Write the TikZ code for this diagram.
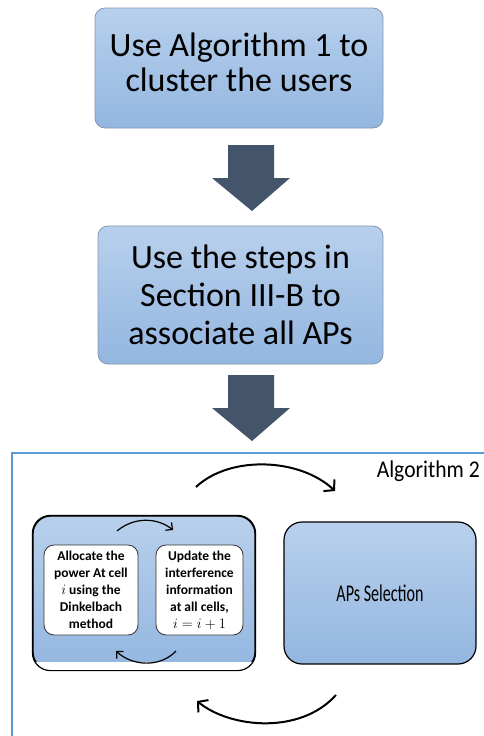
\documentclass[tikz,border=0pt]{standalone}
\usepackage{fontspec}
\setmainfont{Carlito}
\usetikzlibrary{arrows.meta}
\definecolor{boxtop}{HTML}{B8D0EC}
\definecolor{boxbot}{HTML}{93B6E0}
\definecolor{boxedge}{HTML}{8497B0}
\definecolor{blockarrow}{HTML}{44546A}
\definecolor{framecol}{HTML}{5B9BD5}
\tikzset{
  stepbox/.style={draw=boxedge, line width=0.8pt, rounded corners=10pt,
    top color=boxtop, bottom color=boxbot, align=center, inner sep=0pt},
  bigbox/.style={draw=black, line width=1.2pt, rounded corners=18pt,
    top color=boxtop, bottom color=boxbot, align=center, inner sep=0pt},
  cellbox/.style={draw=black!80, line width=0.8pt, rounded corners=10pt,
    fill=white, align=center, inner sep=0pt, minimum height=90pt,
    font=\bfseries\fontsize{13.5}{17}\selectfont},
  loop/.style={line width=2pt, -{Straight Barb[length=7pt,width=16pt,line width=2pt]}},
  smallloop/.style={line width=1.2pt, -{Straight Barb[length=5pt,width=10pt,line width=1.2pt]}},
  blockarr/.style={fill=blockarrow, draw=none}
}
\begin{document}
\begin{tikzpicture}[x=1pt,y=-1pt]
\useasboundingbox (0,0) rectangle (483,736);

% top flow steps
\node[stepbox, minimum width=288pt, minimum height=120pt] (s1) at (239,68) {};
\node[align=center, inner sep=0pt, font=\fontsize{34}{35}\selectfont, yshift=6pt]
  (s1text) at (s1.center) {Use Algorithm 1 to\\cluster the users};
\node[stepbox, minimum width=285pt, minimum height=138pt,
      font=\fontsize{34}{38}\selectfont] (s2) at (240.5,295)
  {Use the steps in\\Section III-B to\\associate all APs};

% block arrows between the steps
\fill[blockarr] (228,145) -- (274,145) -- (274,178) -- (290,178) -- (252,211)
  -- (212,178) -- (228,178) -- cycle;
\fill[blockarr] (228,375) -- (274,375) -- (274,408) -- (290,408) -- (252,441)
  -- (212,408) -- (228,408) -- cycle;

% Algorithm 2 frame
\draw[framecol, line width=1.5pt] (12,740) -- (12,453) -- (490,453);
\node[font=\fontsize{24}{26}\selectfont, anchor=east, inner sep=0pt] (alg) at (480,471)
  {\scalebox{0.9}[1]{Algorithm 2}};

% power allocation block with its white bottom band
\node[bigbox, minimum width=222pt, minimum height=154pt] (pa) at (144,593) {};
\begin{scope}
  \clip[rounded corners=18pt] (pa.north west) rectangle (pa.south east);
  \fill[white] (20,662) rectangle (270,680);
\end{scope}
\draw[black, line width=1.2pt, rounded corners=18pt] (pa.north west) rectangle (pa.south east);

\node[cellbox, minimum width=94pt] (alloc) at (91,590)
  {Allocate the\\power At cell\\$i$ using the\\Dinkelbach\\method};
\node[cellbox, minimum width=87pt] (upd) at (199.5,590)
  {Update the\\interference\\information\\at all cells,\\$i=i+1$};

% APs selection block
\node[bigbox, minimum width=192pt, minimum height=142pt,
      font=\fontsize{24}{28}\selectfont] (aps) at (380,593)
  {\scalebox{0.67}[1]{APs Selection}};

% loops
\coordinate (t1) at (196,487);
\coordinate (t2) at (335,491);
\draw[loop] (t1) .. controls (230,455) and (300,458) .. (t2);
\coordinate (b1) at (336,695);
\coordinate (b2) at (197,701);
\draw[loop] (b1) .. controls (300,735) and (230,728) .. (b2);

\coordinate (u1) at (117,531);
\coordinate (u2) at (173,530);
\draw[smallloop] (u1) .. controls (135,516) and (158,518) .. (u2);
\coordinate (d1) at (176,651);
\coordinate (d2) at (116,651);
\draw[smallloop] (d1) .. controls (160,668) and (132,666) .. (d2);
\end{tikzpicture}
\end{document}
